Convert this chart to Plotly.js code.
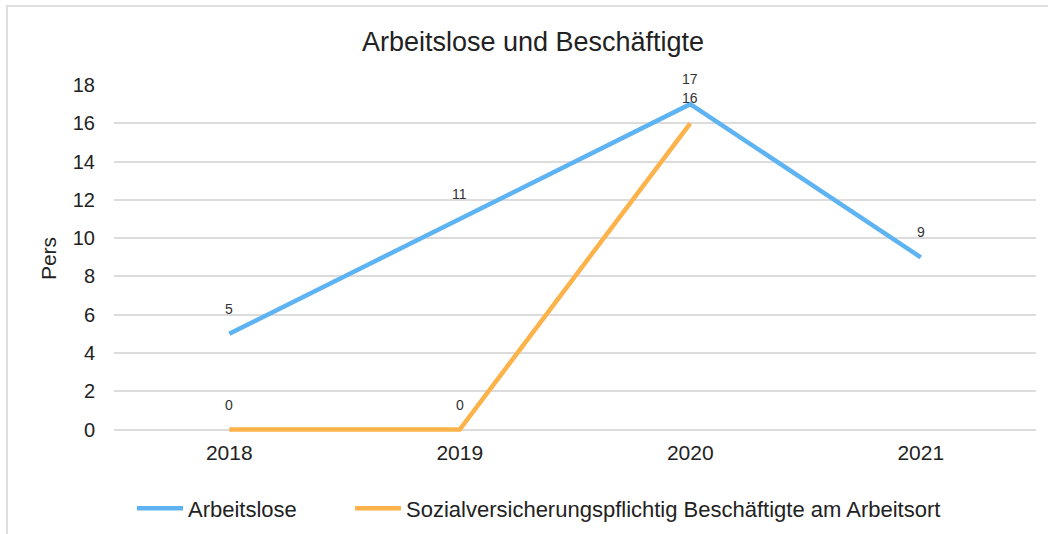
<!DOCTYPE html>
<html>
<head>
<meta charset="utf-8">
<script src="https://cdn.plot.ly/plotly-3.0.1.min.js"></script>
<style>
  html, body { margin: 0; padding: 0; background: #fff; }
  #wrap { position: relative; width: 1048px; height: 534px; overflow: hidden; }
  #frame { position: absolute; left: 6px; top: 5px; right: -10px; bottom: -10px;
           border-top: 2px solid #dedede; border-left: 2px solid #dedede; pointer-events: none; }
  #chart { position: absolute; left: 0; top: 0; width: 1048px; height: 534px; }
</style>
</head>
<body>
<div id="wrap">
  <div id="chart"></div>
  <div id="frame"></div>
</div>
<script>
const categories = ["2018", "2019", "2020", "2021"];
const arbeitslose = [5, 11, 17, 9];
const beschaeftigte = [0, 0, 16, null];
const seriesNames = ["Arbeitslose", "Sozialversicherungspflichtig Beschäftigte am Arbeitsort"];
const yTicks = [0, 2, 4, 6, 8, 10, 12, 14, 16, 18];

const FONT = "Liberation Sans, Arial, sans-serif";
const BLUE = "#5eb3f3";
const ORANGE = "#fdb24a";

const traces = [
  { x: categories, y: arbeitslose, name: seriesNames[0], type: "scatter", mode: "lines",
    line: { color: BLUE, width: 4.5 }, hoverinfo: "skip", cliponaxis: false, legend: "legend" },
  { x: categories, y: beschaeftigte, name: seriesNames[1], type: "scatter", mode: "lines",
    line: { color: ORANGE, width: 4.5 }, connectgaps: false, hoverinfo: "skip", cliponaxis: false,
    legend: "legend2" }
];

const annotations = [];
[arbeitslose, beschaeftigte].forEach(function (arr) {
  arr.forEach(function (v, i) {
    if (v === null) return;
    annotations.push({ x: i, y: v, xref: "x", yref: "y", text: String(v),
      showarrow: false, yshift: 25, font: { family: FONT, size: 14, color: "#333" } });
  });
});

const legendFont = { family: FONT, size: 22, color: "#222" };
const layout = {
  width: 1048, height: 534,
  margin: { l: 114, r: 12, t: 85, b: 101.5, autoexpand: false },
  paper_bgcolor: "rgba(0,0,0,0)", plot_bgcolor: "#fff",
  font: { family: FONT, color: "#222" },
  title: { text: "Arbeitslose und Beschäftigte", font: { family: FONT, size: 27, color: "#222" },
           x: 0.5086, xanchor: "center", y: 0.923, yanchor: "middle" },
  xaxis: { type: "category", categoryorder: "array", categoryarray: categories,
           range: [-0.5, 3.5], showgrid: false, zeroline: false, showline: false,
           ticks: "", tickfont: { family: FONT, size: 21, color: "#222" }, ticklabelstandoff: 6 },
  yaxis: { range: [-0.13, 18], tickvals: yTicks, showgrid: true, gridcolor: "#dcdcdc", gridwidth: 2,
           zeroline: false, showline: false, ticks: "",
           tickfont: { family: FONT, size: 20, color: "#222" }, ticklabelstandoff: 18,
           title: { text: "Pers", font: { family: FONT, size: 21, color: "#222" }, standoff: 10 } },
  showlegend: true,
  legend: { orientation: "h", x: 0.0195, xanchor: "left", y: -0.1597, yanchor: "top",
            font: legendFont, itemwidth: 46 },
  legend2: { orientation: "h", x: 0.256, xanchor: "left", y: -0.1597, yanchor: "top",
            font: legendFont, itemwidth: 46 },
  annotations: annotations
};

Plotly.newPlot("chart", traces, layout, { staticPlot: true, displayModeBar: false });
</script>
</body>
</html>
